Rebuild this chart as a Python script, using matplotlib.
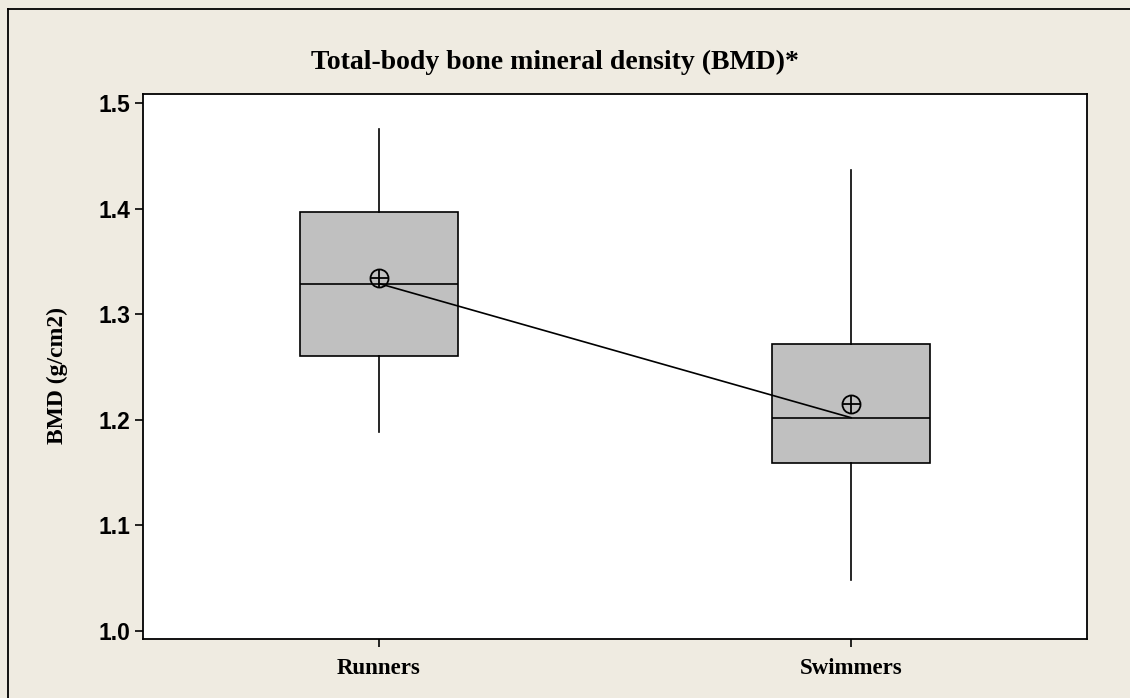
import matplotlib.pyplot as plt
from matplotlib.lines import Line2D

groups = ["Runners", "Swimmers"]
whisker_low = [1.188, 1.048]
q1 = [1.260, 1.159]
medians = [1.329, 1.202]
q3 = [1.397, 1.272]
whisker_high = [1.475, 1.437]
means = [1.334, 1.215]

bg = "#efebe1"
fig = plt.figure(figsize=(11.3, 6.98), dpi=100, facecolor=bg)
ax = fig.add_axes([143 / 1130, 59 / 698, 944 / 1130, 545 / 698])

# frame of the graph window (left and top edges visible)
fig.add_artist(Line2D([8 / 1130, 8 / 1130], [0, 1 - 9 / 698], color="black", lw=1.3))
fig.add_artist(Line2D([8 / 1130, 1], [1 - 9 / 698, 1 - 9 / 698], color="black", lw=1.3))

stats = []
for i, g in enumerate(groups):
    stats.append({"label": g, "whislo": whisker_low[i], "q1": q1[i], "med": medians[i],
                  "q3": q3[i], "whishi": whisker_high[i], "fliers": []})

pos = [1, 2]
ax.bxp(stats, positions=pos, widths=0.333, patch_artist=True, showcaps=False,
       boxprops=dict(facecolor="#c0c0c0", edgecolor="black", linewidth=1.2),
       medianprops=dict(color="black", linewidth=1.2),
       whiskerprops=dict(color="black", linewidth=1.2))

# line connecting medians
ax.plot(pos, medians, color="black", lw=1.2, zorder=4)
# mean symbols (circle with cross)
ax.plot(pos, means, "o", ms=13, mfc="none", mec="black", mew=1.3, zorder=5)
ax.plot(pos, means, "+", ms=13, mec="black", mew=1.3, zorder=5)

ax.set_xlim(0.5, 2.5)
ax.set_ylim(0.9924, 1.5085)
ax.set_yticks([1.0, 1.1, 1.2, 1.3, 1.4, 1.5])
ax.set_yticklabels(["1.0", "1.1", "1.2", "1.3", "1.4", "1.5"],
                   fontfamily="Liberation Sans", fontweight="bold", fontsize=16.5)
ax.set_xticks(pos)
ax.set_xticklabels(groups, fontfamily="Liberation Serif", fontweight="bold", fontsize=16.5)
ax.tick_params(axis="y", length=6, width=1.2, pad=3)
ax.tick_params(axis="x", length=6, width=1.2, pad=8)
for s in ax.spines.values():
    s.set_linewidth(1.3)

fig.text(555 / 1130, 1 - 69 / 698, "Total-body bone mineral density (BMD)*",
         fontfamily="Liberation Serif", fontweight="bold", fontsize=20,
         ha="center", va="baseline")
ax.set_ylabel("BMD (g/cm2)", fontfamily="Liberation Serif", fontweight="bold", fontsize=17)
ax.yaxis.set_label_coords((68 - 143) / 944, (639 - 376) / 545)

fig.savefig("out.png", dpi=100, facecolor=bg)
